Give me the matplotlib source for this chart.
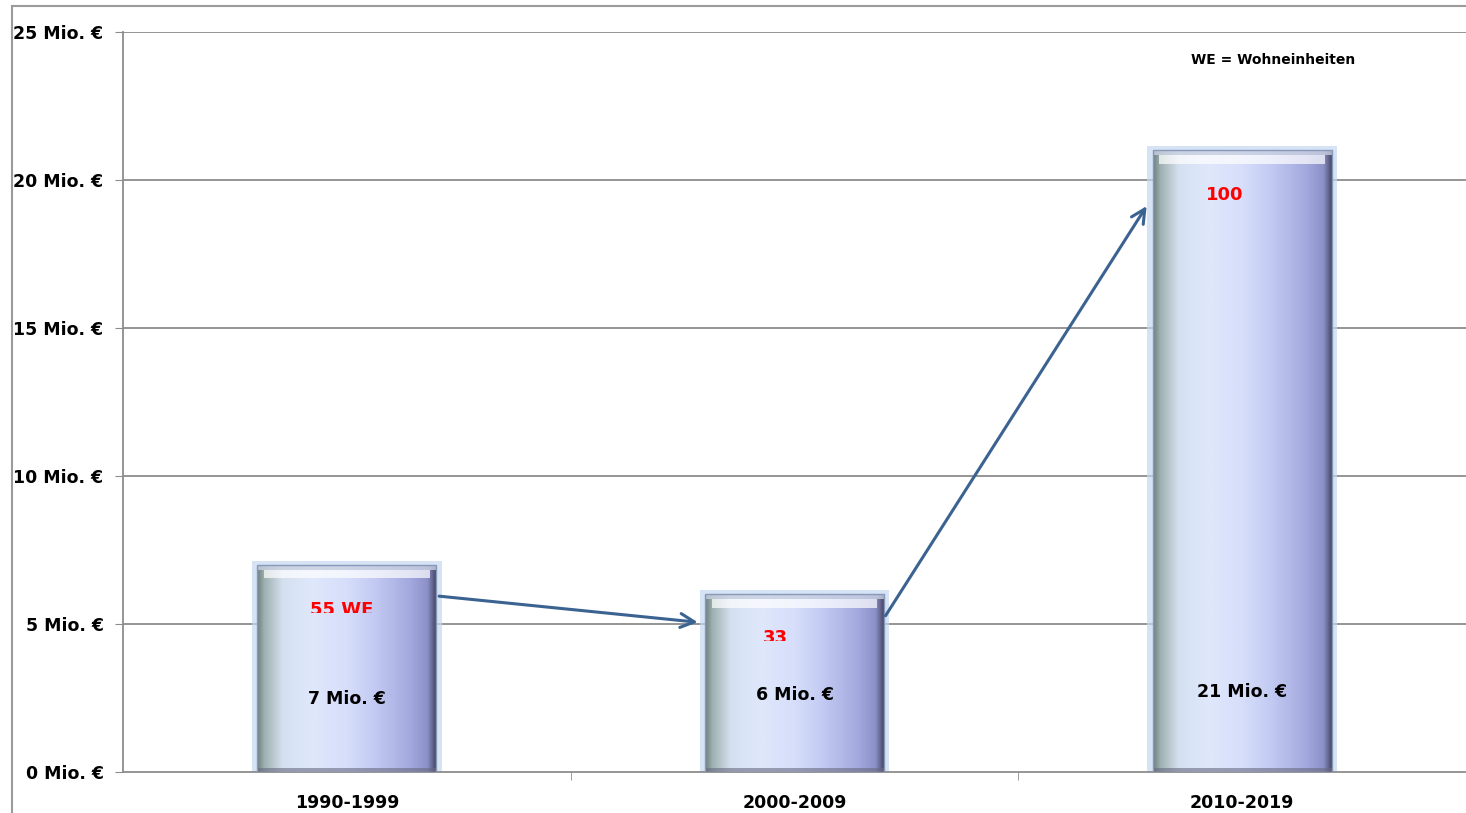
import numpy as np
import matplotlib
matplotlib.use("Agg")
import matplotlib.pyplot as plt
from matplotlib.colors import LinearSegmentedColormap
from matplotlib.patches import Rectangle
from matplotlib.lines import Line2D

# data
periods = ['1990-1999', '2000-2009', '2010-2019']
volume_mio = [7, 6, 21]
units_labels = ['55 WE', '33', '100']
value_labels = ['7 Mio. €', '6 Mio. €', '21 Mio. €']
y_ticks = [0, 5, 10, 15, 20, 25]

plt.rcParams['font.family'] = ['DejaVu Sans']

fig = plt.figure(figsize=(14.66, 8.13), dpi=100)
ax = fig.add_axes([123 / 1466, 1 - 772 / 813, 1 - 123 / 1466, (772 - 32) / 813])

# outer frame of the chart area
fig.add_artist(Line2D([12 / 1466, 12 / 1466], [0, 1 - 6 / 813], transform=fig.transFigure,
                      color='#9a9a9a', lw=1.5))
fig.add_artist(Line2D([12 / 1466, 1], [1 - 6 / 813, 1 - 6 / 813], transform=fig.transFigure,
                      color='#9a9a9a', lw=1.5))

ax.set_xlim(-0.5, 2.5)
ax.set_ylim(0, 25)

# gridlines
for t in y_ticks[1:]:
    ax.axhline(t, color='#8c8c8c', lw=1.3, zorder=0)

# horizontal gradient used for the bars
grad = LinearSegmentedColormap.from_list('bar', [
    (0.00, '#6f8080'), (0.04, '#9fb0b0'), (0.14, '#d4e0f0'), (0.30, '#dfe8fb'),
    (0.50, '#d6defb'), (0.65, '#c4cbf3'), (0.85, '#a4a9de'), (0.95, '#8c90c8'),
    (1.00, '#40405e')])

bar_w = 0.4
value_y = [2.47, 2.6, 2.7]
for i, v in enumerate(volume_mio):
    x0 = i - bar_w / 2
    # soft glow
    ax.add_patch(Rectangle((x0 - 0.012, 0), bar_w + 0.024, v + 0.14, facecolor='#c4d8f2',
                           edgecolor='none', alpha=0.7, zorder=2))
    img = np.tile(np.linspace(0, 1, 256), (2, 1))
    im = ax.imshow(img, cmap=grad, extent=[x0, x0 + bar_w, 0, v], aspect='auto',
                   zorder=3, interpolation='bilinear')
    im.set_clip_path(Rectangle((x0, 0), bar_w, v, transform=ax.transData))
    # bevel: top highlight and bottom shade
    ax.add_patch(Rectangle((x0 + 0.015, v - 0.45), bar_w - 0.03, 0.28, facecolor='white',
                           edgecolor='none', alpha=0.7, zorder=4))
    ax.add_patch(Rectangle((x0, v - 0.17), bar_w, 0.17, facecolor='#c8d0e0',
                           edgecolor='none', alpha=0.8, zorder=4))
    ax.add_patch(Rectangle((x0, 0), bar_w, 0.15, facecolor='#6a6a80',
                           edgecolor='none', alpha=0.6, zorder=4))
    ax.add_patch(Rectangle((x0, 0), bar_w, v, facecolor='none', edgecolor='#8898b8',
                           lw=1.0, zorder=5))

    ax.text(i, value_y[i], value_labels[i], ha='center', va='center',
            fontsize=12.5, fontweight='bold', color='black', zorder=6)

# red labels (lower half hidden in the original)
red_x = [-0.011, 0.958, 1.962]
red_y = [5.47, 4.53, 19.5]
clip_y = [5.37, 4.43, None]
for i, lab in enumerate(units_labels):
    t = ax.text(red_x[i], red_y[i], lab, ha='center', va='center',
                fontsize=13, fontweight='bold', color='#ff0000', zorder=6)
    if clip_y[i] is not None:
        t.set_clip_path(Rectangle((i - 0.3, clip_y[i]), 0.6, 3, transform=ax.transData))
        t.set_clip_on(True)

# arrows
arrow_kw = dict(arrowstyle='->', color='#3b6391', lw=2.2, mutation_scale=25)
ax.annotate('', xy=(0.79, 5.05), xytext=(0.2, 5.95), arrowprops=arrow_kw, zorder=7)
ax.annotate('', xy=(1.79, 19.2), xytext=(1.2, 5.2), arrowprops=arrow_kw, zorder=7)

ax.text(2.07, 24.05, 'WE = Wohneinheiten', ha='center', va='center', fontsize=10,
        fontweight='bold')

# axes styling
for s in ['top', 'right']:
    ax.spines[s].set_visible(False)
for s in ['left', 'bottom']:
    ax.spines[s].set_color('#8c8c8c')
    ax.spines[s].set_linewidth(1.3)

ax.set_yticks(y_ticks)
ax.set_yticklabels([f'{t} Mio. €' for t in y_ticks], fontsize=12.5, fontweight='bold')
ax.tick_params(axis='y', length=6, color='#8c8c8c', pad=8)

ax.set_xticks(range(len(periods)))
ax.set_xticklabels(periods, fontsize=12.5, fontweight='bold')
ax.set_xticks([0.5, 1.5], minor=True)
ax.tick_params(axis='x', which='major', length=0, pad=16)
ax.tick_params(axis='x', which='minor', length=6, color='#8c8c8c')

fig.savefig('out.png', dpi=100)
